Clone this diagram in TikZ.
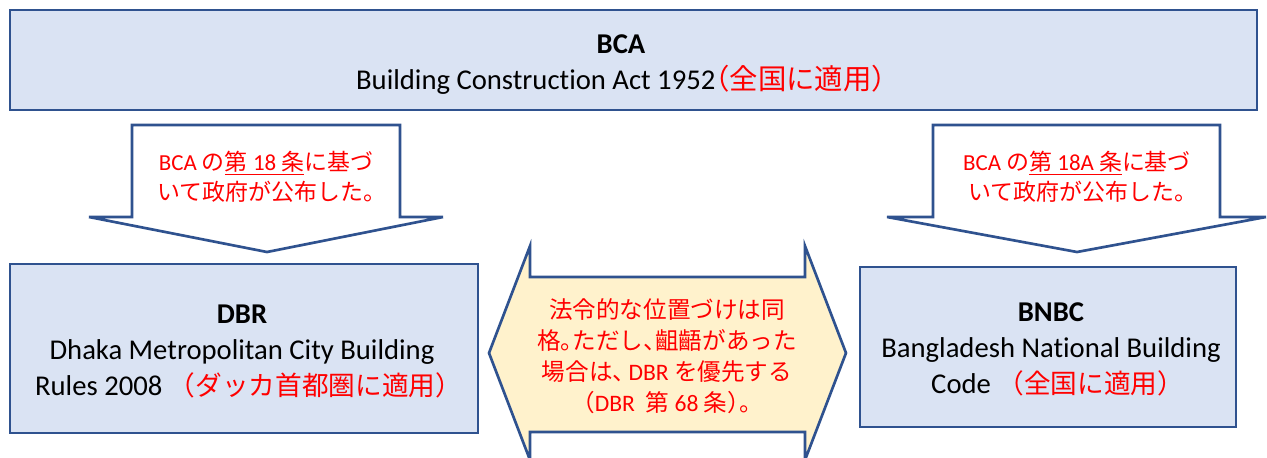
\documentclass[tikz,border=0pt]{standalone}
\usepackage{fontspec}
\setmainfont{Carlito}[Ligatures=NoCommon]
\newfontfamily\jp{Noto Sans CJK JP}[RawFeature=+halt]
\newfontfamily\jpf{Noto Sans CJK JP}
\definecolor{boxfill}{HTML}{DAE3F3}
\definecolor{boxline}{HTML}{2F528F}
\definecolor{arrfill}{HTML}{FFF2CC}
\definecolor{jred}{HTML}{FF0000}
\newcommand{\bj}[1]{{\color{jred}\jp\fontsize{20}{27}\selectfont #1}}
\newcommand{\bjf}[1]{{\color{jred}\jpf\fontsize{20}{27}\selectfont #1}}
\newcommand{\tj}[1]{{\color{jred}\jp\fontsize{21.3}{27}\selectfont #1}}
\begin{document}
\begin{tikzpicture}[x=0.75pt,y=-0.75pt,
  box/.style={draw=boxline, fill=boxfill, line width=2pt, inner sep=0pt},
  boxtext/.style={align=center, inner sep=0pt, font=\fontsize{21.5}{27}\selectfont},
  blockarrow/.style={draw=boxline, line width=2pt, line join=miter},
  arrtext/.style={text=jred, align=center, inner sep=0pt, font=\fontsize{17.2}{22.8}\selectfont},
  midtext/.style={text=jred, align=center, inner sep=0pt, font=\fontsize{17.7}{23.1}\selectfont}]
\useasboundingbox (0,0) rectangle (1267,457);

% top box
\node[box, minimum width=935.25pt, minimum height=75pt] (bca) at (633.5,60) {};
\node[boxtext] (bcat) at (621,65)
  {\textbf{BCA}\\Building Construction Act 1952\tj{（全国に適用）}};

% down arrows
\draw[blockarrow, fill=white] (132,125) -- (400,125) -- (400,217) -- (443,217) -- (267,252) -- (89,217) -- (132,217) -- cycle;
\draw[blockarrow, fill=white] (933,125) -- (1220,125) -- (1220,217) -- (1266,217) -- (1077,252) -- (887,217) -- (933,217) -- cycle;
\node[arrtext] (la) at (266,177)
  {BCA {\jp の}\underline{{\jp 第} 18 {\jp 条}}{\jp に基づ}\\{\jp いて政府が公布した。}};
\node[arrtext] (ra) at (1077,177)
  {BCA {\jp の}\underline{{\jp 第} 18A {\jp 条}}{\jp に基づ}\\{\jp いて政府が公布した。}};

% bottom boxes
\node[box, minimum width=351pt, minimum height=126.75pt] (dbr) at (244,348.5) {};
\node[boxtext] (dbrt) at (242,351)
  {\textbf{DBR}\\Dhaka Metropolitan City Building\\Rules 2008 \bjf{（}\bj{ダッカ首都圏に適用）}};
\node[box, minimum width=282pt, minimum height=120pt] (bnbc) at (1048,347) {};
\node[boxtext] (bnbct) at (1051,349)
  {\textbf{BNBC}\\Bangladesh National Building\\Code \bjf{（}\bj{全国に適用）}};

% double arrow
\draw[blockarrow, fill=arrfill] (489,353) -- (530,246) -- (530,277) -- (805,277) -- (805,246) -- (846,353)
  -- (805,460) -- (805,432) -- (530,432) -- (530,460) -- cycle;
\node[midtext] (mid) at (667,356)
  {{\jp 法令的な位置づけは同}\\{\jp 格。ただし、齟齬があった}\\{\jp 場合は、}\kern3pt DBR {\jp を優先する}\\{\jp （}DBR\ \ {\jp 第} 68 {\jp 条）。}};
\end{tikzpicture}
\end{document}
